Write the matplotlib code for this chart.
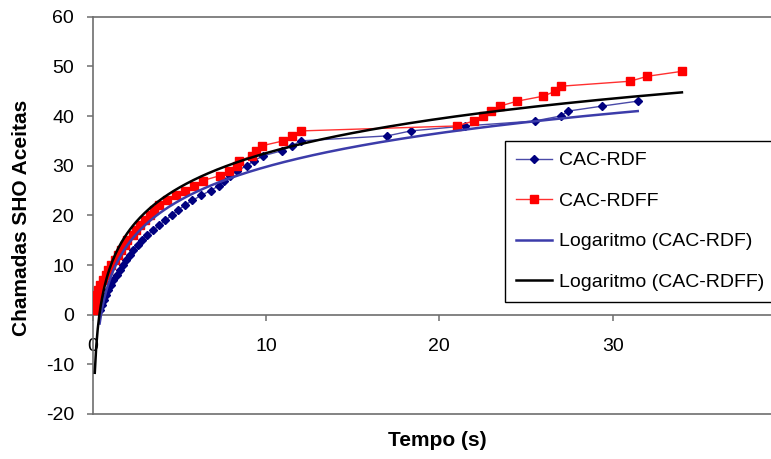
import numpy as np
import matplotlib
matplotlib.use("Agg")
import matplotlib.pyplot as plt

plt.rcParams["font.family"] = ["Liberation Sans", "DejaVu Sans"]
plt.rcParams["axes.unicode_minus"] = False

# Accepted SHO calls (cumulative count) vs time in seconds
rdf_time = [0.4, 0.55, 0.65, 0.75, 0.9, 1.05, 1.2, 1.4, 1.6, 1.75,
            1.95, 2.15, 2.35, 2.6, 2.85, 3.15, 3.5, 3.85, 4.2, 4.55,
            4.9, 5.3, 5.75, 6.25, 6.8, 7.3, 7.6, 7.9, 8.35, 8.9,
            9.3, 9.85, 10.9, 11.5, 12.0, 17.0, 18.35, 21.5, 25.5, 27.0,
            27.45, 29.4, 31.45]
rdf_calls = list(range(1, 44))

rdff_time = [0.12, 0.15, 0.2, 0.25, 0.32, 0.45, 0.6, 0.75, 0.9, 1.08,
             1.27, 1.45, 1.65, 1.85, 2.0, 2.3, 2.5, 2.75, 3.0, 3.3,
             3.55, 3.85, 4.3, 4.8, 5.3, 5.85, 6.35, 7.35, 7.85, 8.3,
             8.45, 9.2, 9.45, 9.75, 11.0, 11.5, 12.0, 21.0, 22.0, 22.5,
             23.0, 23.5, 24.5, 26.0, 26.7, 27.0, 31.0, 32.0, 34.0]
rdff_calls = list(range(1, 50))

# Excel log trendlines y = a*ln(x) + b, coefficients
rdf_trend = [9.8, 7.2]
rdff_trend = [10.0, 9.5]

x_ticks = [0, 10, 20, 30]
y_ticks = list(range(-20, 61, 10))

AXIS_GREY = "#6e6e6e"
NAVY = "#000080"


def log_curve(x, coef):
    x = np.asarray(x, float)
    xs = np.linspace(x.min(), x.max(), 400)
    return xs, coef[0] * np.log(xs) + coef[1]


fig = plt.figure(figsize=(7.71, 4.59), dpi=100)
ax = fig.add_axes((92.7 / 771, 45 / 459, 693.2 / 771, 397.3 / 459))

ax.plot(rdf_time, rdf_calls, color="#4a4aa8", lw=1, marker="D", ms=4,
        mfc=NAVY, mec=NAVY, label="CAC-RDF", zorder=3)
ax.plot(rdff_time, rdff_calls, color="#ff3030", lw=1, marker="s", ms=5.5,
        mfc="#ff0000", mec="#ff0000", label="CAC-RDFF", zorder=3)

xs, ys = log_curve(rdf_time, rdf_trend)
ax.plot(xs, ys, color="#3c3caa", lw=1.8, label="Logaritmo (CAC-RDF)", zorder=4)
xs, ys = log_curve(rdff_time, rdff_trend)
ax.plot(xs, ys, color="black", lw=1.8, label="Logaritmo (CAC-RDFF)", zorder=4)

ax.set_xlim(0, 40)
ax.set_ylim(-20, 60)
ax.set_xticks(x_ticks)
ax.set_yticks(y_ticks)

ax.spines["bottom"].set_position(("data", 0))
ax.spines["right"].set_visible(False)
for s in ("left", "bottom", "top"):
    ax.spines[s].set_color(AXIS_GREY)
    ax.spines[s].set_linewidth(1.2)
ax.axhline(-20, color=AXIS_GREY, lw=1.2, clip_on=False)

ax.tick_params(axis="y", direction="out", length=4.3, width=1.1,
               color=AXIS_GREY, labelsize=14, pad=9)
ax.tick_params(axis="x", direction="out", length=4, width=1.1,
               color=AXIS_GREY, labelsize=14, pad=13)

fig.text(22 / 771, 1 - 217.5 / 459, "Chamadas SHO Aceitas", rotation=90,
         ha="center", va="center", fontsize=15, fontweight="bold")
fig.text(437 / 771, 1 - 441 / 459, "Tempo (s)", ha="center", va="center",
         fontsize=15, fontweight="bold")

leg = fig.legend(loc="upper left", bbox_to_anchor=(505 / 771, 1 - 141 / 459),
                 fontsize=14, frameon=True, fancybox=False, edgecolor="black",
                 framealpha=1, handlelength=1.85, handletextpad=0.36,
                 labelspacing=1.18, borderpad=0.55, borderaxespad=0)
leg.get_frame().set_linewidth(1.0)

fig.savefig("out.png", dpi=100)
